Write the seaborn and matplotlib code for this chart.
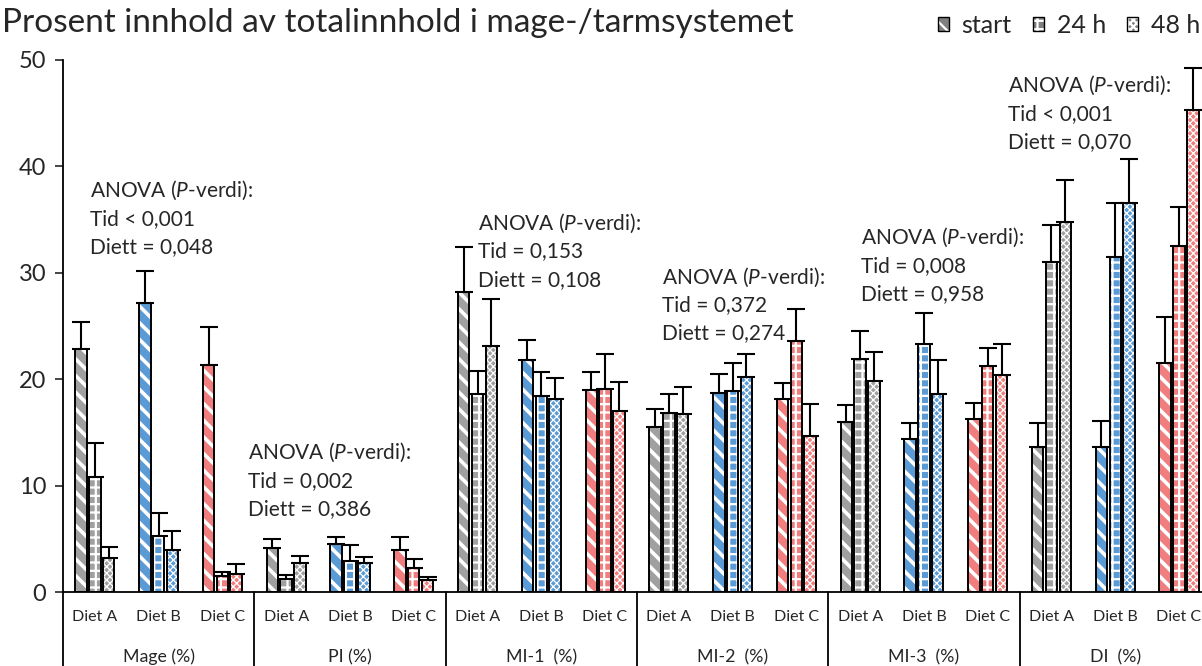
import matplotlib
matplotlib.use("Agg")
import matplotlib.pyplot as plt
import matplotlib.patches as mpatches
import pandas as pd
import seaborn as sns

# ---- data -------------------------------------------------------------
regions = ["Mage (%)", "PI (%)", "MI-1  (%)", "MI-2  (%)", "MI-3  (%)", "DI  (%)"]
diets = ["Diet A", "Diet B", "Diet C"]
times = ["start", "24 h", "48 h"]

# values ordered region by region, Diet A / B / C within each region
start_mean = [22.8, 27.2, 21.3, 4.1, 4.5, 4.0, 28.2, 21.8, 19.0,
              15.5, 18.7, 18.1, 16.0, 14.4, 16.3, 13.6, 13.6, 21.5]
start_sd = [2.6, 3.0, 3.6, 0.9, 0.7, 1.2, 4.2, 1.9, 1.7,
            1.7, 1.8, 1.5, 1.6, 1.5, 1.5, 2.3, 2.5, 4.3]
h24_mean = [10.8, 5.3, 1.5, 1.2, 2.9, 2.3, 18.6, 18.4, 19.1,
            16.8, 18.9, 23.6, 21.9, 23.3, 21.2, 31.0, 31.5, 32.5]
h24_sd = [3.2, 2.1, 0.4, 0.4, 1.5, 0.8, 2.2, 2.3, 3.3,
          1.8, 2.6, 3.0, 2.6, 2.9, 1.7, 3.5, 5.1, 3.7]
h48_mean = [3.2, 4.0, 1.7, 2.7, 2.7, 1.1, 23.1, 18.1, 17.0,
            16.7, 20.2, 14.7, 19.8, 18.6, 20.4, 34.8, 36.6, 45.3]
h48_sd = [1.0, 1.7, 0.9, 0.7, 0.6, 0.3, 4.4, 2.0, 2.7,
          2.6, 2.2, 3.0, 2.8, 3.2, 2.9, 3.9, 4.1, 3.9]

tid_text = ["Tid < 0,001", "Tid = 0,002", "Tid = 0,153",
            "Tid = 0,372", "Tid = 0,008", "Tid < 0,001"]
diett_text = ["Diett = 0,048", "Diett = 0,386", "Diett = 0,108",
              "Diett = 0,274", "Diett = 0,958", "Diett = 0,070"]

title = "Prosent innhold av totalinnhold i mage-/tarmsystemet"

# ---- styling ----------------------------------------------------------
diet_colors = ["#a0a0a0", "#5b9bd5", "#f07e7e"]
time_hatches = ["\\\\", "++", "xxxxx"]
hatch_widths = [2.6, 1.6, 0.9]
# left x (category units) and y of the first annotation line
anova_pos = [(-0.07, 37.7), (2.40, 13.1), (6.0, 34.65),
             (8.9, 29.6), (12.02, 33.3), (14.32, 47.6)]
line_step = 2.65

sns.set_style("ticks")
plt.rcParams["font.family"] = ["Lato", "DejaVu Sans"]
plt.rcParams["mathtext.fontset"] = "custom"
plt.rcParams["mathtext.rm"] = "Lato"
plt.rcParams["mathtext.it"] = "Lato:italic"
plt.rcParams["hatch.linewidth"] = 1.6

# ---- long-form table --------------------------------------------------
cats = [f"{r}|{d}" for r in regions for d in diets]
rows = []
for t, means, sds in zip(times, [start_mean, h24_mean, h48_mean],
                         [start_sd, h24_sd, h48_sd]):
    for c, m, s in zip(cats, means, sds):
        rows.append({"cat": c, "time": t, "value": m, "sd": s})
df = pd.DataFrame(rows)

fig = plt.figure(figsize=(12.02, 6.66), dpi=100)
ax = fig.add_axes([0.0524, 0.111, 0.955, 0.799])

sns.barplot(data=df, x="cat", y="value", hue="time", order=cats,
            hue_order=times, width=0.65, gap=0.17, errorbar=None,
            dodge=True, legend=False, ax=ax)

bar_containers = list(ax.containers)
for h, cont in enumerate(bar_containers):
    sd_vals = df[df["time"] == times[h]].set_index("cat").loc[cats, "sd"].values
    xs, ys = [], []
    for i, bar in enumerate(cont):
        bar.set_facecolor(diet_colors[i % 3])
        bar.set_edgecolor("white")
        bar.set_linewidth(0)
        bar.set_hatch(time_hatches[h])
        if hasattr(bar, "set_hatch_linewidth"):
            bar.set_hatch_linewidth(hatch_widths[h])
        ax.add_patch(mpatches.Rectangle((bar.get_x(), bar.get_y()),
                                        bar.get_width(), bar.get_height(),
                                        fill=False, edgecolor="black",
                                        linewidth=1.4, zorder=3))
        xs.append(bar.get_x() + bar.get_width() / 2)
        ys.append(bar.get_height())
    ax.errorbar(xs, ys, yerr=[[0] * len(sd_vals), sd_vals], fmt="none",
                ecolor="black", elinewidth=1.5, capsize=6.5,
                capthick=1.5, zorder=2)

# ---- axes -------------------------------------------------------------
ax.set_xlim(-0.5, len(cats) - 0.5)
ax.set_ylim(0, 50)
ax.set_yticks(range(0, 51, 10))
ax.tick_params(axis="y", labelsize=17, length=6, width=1.2, pad=6)
ax.set_xticks([])
ax.set_xlabel("")
ax.set_ylabel("")
sns.despine(ax=ax, top=True, right=True)
for s in ["left", "bottom"]:
    ax.spines[s].set_linewidth(1.3)
    ax.spines[s].set_color("black")

# category and group labels under the axis
xt = ax.get_xaxis_transform()
for i, c in enumerate(cats):
    ax.text(i, -0.047, c.split("|")[1], transform=xt, ha="center",
            va="center", fontsize=11.5)
for g, r in enumerate(regions):
    ax.text(g * 3 + 1, -0.122, r, transform=xt, ha="center",
            va="center", fontsize=12.8)
for b in range(len(regions) + 1):
    ax.plot([b * 3 - 0.5, b * 3 - 0.5], [0, -0.2], transform=xt,
            color="black", linewidth=1.3, clip_on=False)

# ANOVA annotations
for (x0, y0), t1, t2 in zip(anova_pos, tid_text, diett_text):
    ax.text(x0, y0, r"ANOVA ($\mathit{P}$-verdi):", ha="left", va="center",
            fontsize=15)
    ax.text(x0, y0 - line_step, t1, ha="left", va="center", fontsize=15)
    ax.text(x0, y0 - 2 * line_step, t2, ha="left", va="center", fontsize=15)

fig.text(0.002, 0.966, title, fontsize=24, ha="left", va="center")

# legend
handles = []
for h in range(3):
    fillp = mpatches.Patch(facecolor="#7f7f7f", edgecolor="white",
                           hatch=time_hatches[h], linewidth=0)
    edgep = mpatches.Patch(facecolor="none", edgecolor="black", linewidth=1.0)
    handles.append((fillp, edgep))
fig.legend(handles, times, loc="center right", bbox_to_anchor=(1.011, 0.962),
           ncol=3, frameon=False, fontsize=18, handlelength=0.45,
           handleheight=0.45, handletextpad=0.5, columnspacing=0.85,
           borderpad=0.1)

fig.savefig("out.png", dpi=100)
